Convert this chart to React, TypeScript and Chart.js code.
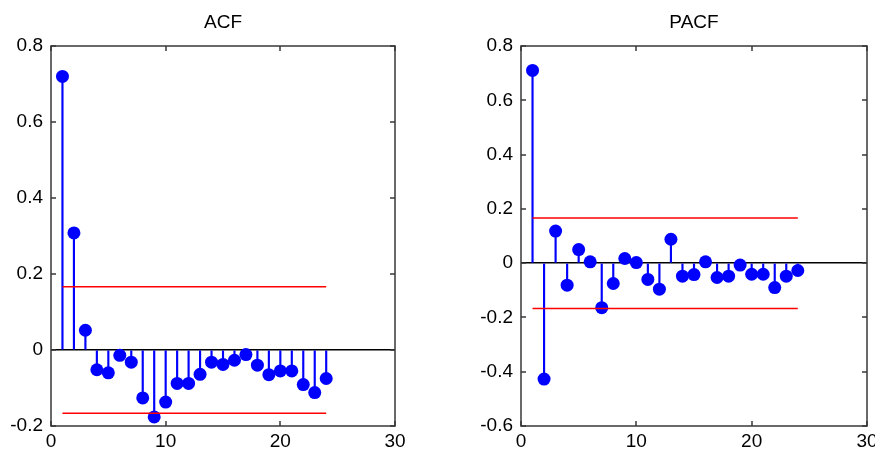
import React, { useEffect, useRef } from "react";
import { Chart, registerables } from "chart.js";

Chart.register(...registerables);

const lags = [1, 2, 3, 4, 5, 6, 7, 8, 9, 10, 11, 12, 13, 14, 15, 16, 17, 18, 19, 20, 21, 22, 23, 24];
const acfValues = [0.72, 0.308, 0.052, -0.052, -0.06, -0.014, -0.032, -0.126, -0.176, -0.137, -0.088, -0.088, -0.064, -0.032, -0.038, -0.027, -0.012, -0.04, -0.065, -0.055, -0.055, -0.091, -0.112, -0.075];
const pacfValues = [0.71, -0.427, 0.118, -0.081, 0.05, 0.005, -0.164, -0.075, 0.017, 0.002, -0.06, -0.096, 0.088, -0.048, -0.042, 0.005, -0.053, -0.048, -0.007, -0.041, -0.041, -0.09, -0.048, -0.027];
const confBound = 0.1667;
const boundRange = [1, 24];
const xTicks = { min: 0, max: 30, step: 10 };
const acfY = { min: -0.2, max: 0.8, step: 0.2 };
const pacfY = { min: -0.6, max: 0.8, step: 0.2 };

const FONT = "'Liberation Sans', Arial, sans-serif";
const FONT_SIZE = 19;

const boxPlugin = {
  id: "matlabBox",
  afterDraw(chart: any) {
    const { ctx, chartArea: a, scales } = chart;
    const x = scales.x;
    const y = scales.y;
    const L = Math.round(a.left);
    const R = Math.round(a.right);
    const T = Math.round(a.top);
    const B = Math.round(a.bottom);
    ctx.save();
    ctx.strokeStyle = "#383838";
    ctx.lineWidth = 1.5;
    ctx.strokeRect(L, T, R - L, B - T);
    const len = 5;
    ctx.beginPath();
    y.ticks.forEach((t: any) => {
      const py = Math.round(y.getPixelForValue(t.value));
      ctx.moveTo(L, py);
      ctx.lineTo(L + len, py);
      ctx.moveTo(R, py);
      ctx.lineTo(R - len, py);
    });
    x.ticks.forEach((t: any) => {
      const px = Math.round(x.getPixelForValue(t.value));
      ctx.moveTo(px, B);
      ctx.lineTo(px, B - len);
      ctx.moveTo(px, T);
      ctx.lineTo(px, T + len);
    });
    ctx.stroke();
    ctx.restore();
  },
};

function makeConfig(title: string, values: number[], yr: { min: number; max: number; step: number }, padRight: number) {
  const pts = lags.map((l, i) => ({ x: l, y: values[i] }));
  return {
    type: "bar",
    data: {
      datasets: [
        {
          type: "line",
          data: [
            { x: boundRange[0], y: confBound },
            { x: boundRange[1], y: confBound },
          ],
          borderColor: "#ff0000",
          borderWidth: 1.5,
          pointRadius: 0,
          order: 0,
        },
        {
          type: "line",
          data: [
            { x: boundRange[0], y: -confBound },
            { x: boundRange[1], y: -confBound },
          ],
          borderColor: "#ff0000",
          borderWidth: 1.5,
          pointRadius: 0,
          order: 0,
        },
        {
          type: "line",
          data: pts,
          showLine: false,
          pointRadius: 6.5,
          pointBackgroundColor: "#0000ff",
          pointBorderColor: "#0000ff",
          pointBorderWidth: 0,
          order: 1,
        },
        {
          type: "bar",
          data: pts,
          backgroundColor: "#0000ff",
          barThickness: 1.5,
          order: 2,
        },
      ],
    },
    options: {
      animation: false,
      responsive: false,
      events: [],
      layout: { padding: { left: 0, right: padRight, top: 0, bottom: 0 } },
      plugins: {
        legend: { display: false },
        tooltip: { enabled: false },
        title: {
          display: true,
          text: title,
          fullSize: false,
          color: "#000",
          font: { family: FONT, size: FONT_SIZE, weight: "normal", lineHeight: 1.2 },
          padding: { top: 11.5, bottom: 11.7 },
        },
      },
      scales: {
        x: {
          type: "linear",
          offset: false,
          min: xTicks.min,
          max: xTicks.max,
          border: { display: false },
          grid: { display: false, drawTicks: false },
          ticks: {
            stepSize: xTicks.step,
            color: "#000",
            padding: 4,
            maxRotation: 0,
            font: { family: FONT, size: FONT_SIZE },
          },
          afterFit(scale: any) {
            scale.height = 24;
            scale.paddingLeft = 0;
            scale.paddingRight = 0;
          },
        },
        y: {
          type: "linear",
          min: yr.min,
          max: yr.max,
          border: { display: false },
          grid: {
            drawTicks: false,
            lineWidth: 1.5,
            color: (c: any) => (c.tick && Math.abs(c.tick.value) < 1e-9 ? "#000000" : "rgba(0,0,0,0)"),
          },
          ticks: {
            stepSize: yr.step,
            color: "#000",
            padding: 8,
            font: { family: FONT, size: FONT_SIZE },
            callback: (v: number) => {
              const r = Math.round(v * 10) / 10;
              return r === 0 ? "0" : String(r);
            },
          },
          afterFit(scale: any) {
            scale.width = 51;
            scale.paddingTop = 0;
            scale.paddingBottom = 0;
          },
        },
      },
    },
    plugins: [boxPlugin],
  };
}

function ChartCanvas(props: { cfg: any; left: number; width: number }) {
  const ref = useRef<HTMLCanvasElement | null>(null);
  useEffect(() => {
    if (!ref.current) return;
    const chart = new Chart(ref.current, props.cfg);
    return () => chart.destroy();
  }, []);
  return (
    <canvas
      ref={ref}
      width={props.width}
      height={450}
      style={{ position: "absolute", left: props.left, top: 0, width: props.width, height: 450 }}
    />
  );
}

export default function App() {
  return (
    <div style={{ position: "absolute", left: 0, top: 0, width: 875, height: 450, background: "#fff", overflow: "hidden" }}>
      <ChartCanvas cfg={makeConfig("ACF", acfValues, acfY, 42)} left={0} width={437} />
      <ChartCanvas cfg={makeConfig("PACF", pacfValues, pacfY, 8)} left={470} width={405} />
    </div>
  );
}
